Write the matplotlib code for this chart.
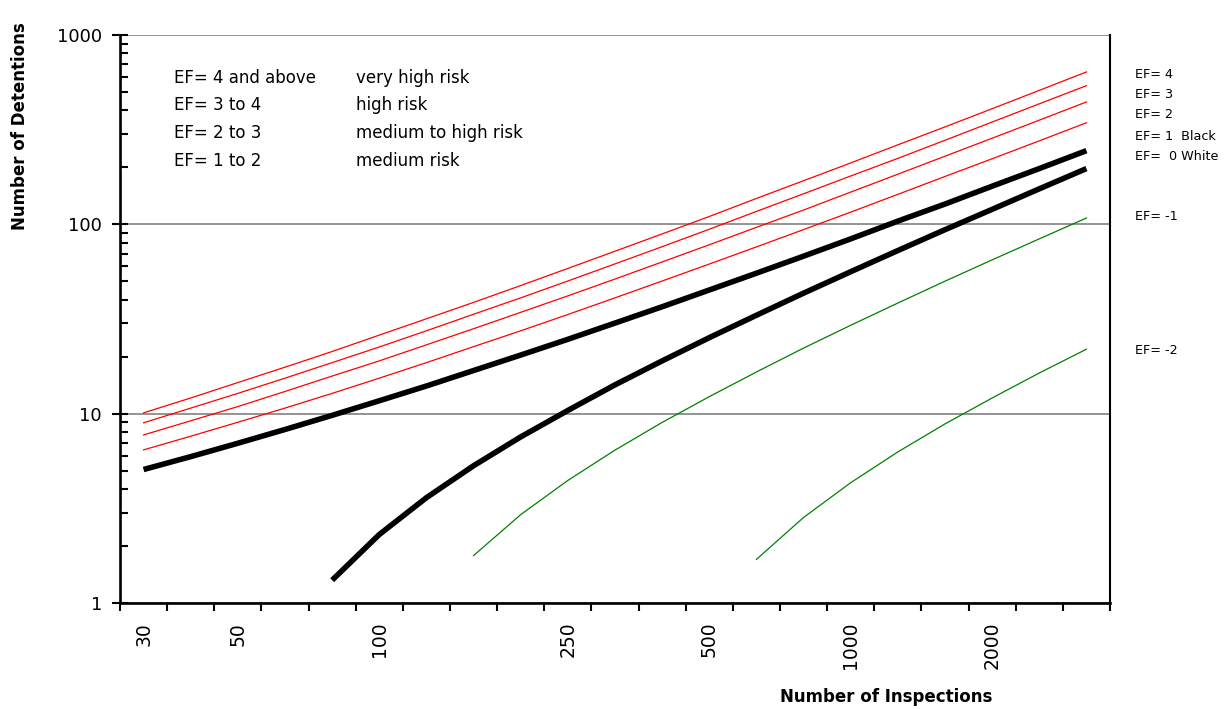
import numpy as np
import matplotlib
matplotlib.use("Agg")
import matplotlib.pyplot as plt
from matplotlib.ticker import FixedLocator, NullFormatter

plt.rcParams['font.family'] = ['DejaVu Sans']

# categories on the x axis (log spaced inspections), only some are labelled
categories = ["30", "", "50", "", "", "100", "", "", "", "250", "", "",
              "500", "", "", "1000", "", "", "2000", "", ""]

# number of detentions, one value per category (None = not drawn)
ef_red_1 = [6.44, 7.60, 9.01, 10.7, 12.8, 15.4, 18.6, 22.6, 27.4, 33.4, 40.9,
            50.2, 61.7, 76.0, 93.8, 116, 144, 179, 222, 276, 344]
ef_red_2 = [7.72, 9.17, 10.9, 13.1, 15.8, 19.0, 23.1, 28.1, 34.3, 41.9, 51.4,
            63.3, 78.0, 96.4, 119, 148, 184, 229, 285, 355, 443]
ef_red_3 = [8.95, 10.7, 12.8, 15.4, 18.6, 22.5, 27.4, 33.5, 40.9, 50.2, 61.8,
            76.2, 94.2, 117, 145, 180, 223, 278, 347, 433, 540]
ef_red_4 = [10.1, 12.1, 14.6, 17.6, 21.3, 26.0, 31.7, 38.7, 47.5, 58.5, 72.1,
            89.0, 110, 137, 170, 211, 263, 327, 408, 510, 638]
ef_black = [5.07, 5.93, 6.98, 8.25, 9.80, 11.7, 14.0, 16.9, 20.4, 24.7, 30.1,
            36.7, 45.0, 55.2, 67.9, 83.8, 104, 128, 159, 197, 245]
ef_white = [None, None, None, None, 1.32, 2.30, 3.60, 5.31, 7.54, 10.4, 14.2,
            19.0, 25.2, 33.1, 43.3, 56.2, 72.7, 93.7, 120, 154, 197]
ef_minus_1 = [None, None, None, None, None, None, None, 1.78, 2.93, 4.44, 6.42,
              8.99, 12.3, 16.6, 22.2, 29.3, 38.4, 50.1, 64.9, 83.8, 108]
ef_minus_2 = [None, None, None, None, None, None, None, None, None, None, None,
              None, None, 1.70, 2.83, 4.32, 6.28, 8.83, 12.1, 16.4, 21.9]

risk_ef = ["EF= 4 and above", "EF= 3 to 4", "EF= 2 to 3", "EF= 1 to 2"]
risk_text = ["very high risk", "high risk", "medium to high risk", "medium risk"]

right_labels = ["EF= 4", "EF= 3", "EF= 2", "EF= 1  Black", "EF=  0 White", "EF= -1", "EF= -2"]
right_label_y = [75, 95, 115, 136, 157, 216, 350]   # pixel rows of the side notes

W, H = 1231, 709


def arr(v):
    return np.array([np.nan if x is None else x for x in v], dtype=float)


fig = plt.figure(figsize=(W / 100, H / 100), dpi=100)
ax = fig.add_axes([120 / W, 1 - 603 / H, 990 / W, 568 / H])

x = np.arange(len(categories))

for s in [ef_red_1, ef_red_2, ef_red_3, ef_red_4]:
    ax.plot(x, arr(s), color='#ff0000', lw=0.9)
for s in [ef_minus_1, ef_minus_2]:
    ax.plot(x, arr(s), color='#008000', lw=0.9)
for s in [ef_black, ef_white]:
    ax.plot(x, arr(s), color='black', lw=4, solid_capstyle='butt')

ax.set_yscale('log')
ax.set_ylim(1, 1000)
ax.set_yticks([1, 10, 100, 1000])
ax.set_yticklabels(["1", "10", "100", "1000"])
ax.yaxis.set_minor_formatter(NullFormatter())
ax.tick_params(axis='y', which='major', direction='inout', length=12, width=1.5,
               labelsize=13, pad=7)
ax.tick_params(axis='y', which='minor', direction='in', length=5.5, width=1.5)

ax.set_xlim(-0.5, len(categories) - 0.5)
ax.set_xticks(x)
ax.set_xticklabels(categories, rotation=90)
ax.xaxis.set_minor_locator(FixedLocator(np.arange(-0.5, len(categories), 1.0)))
ax.tick_params(axis='x', which='major', length=0, labelsize=13.5, pad=13.5)
ax.tick_params(axis='x', which='minor', direction='out', length=6, width=1.5)

ax.yaxis.grid(True, which='major', color='#808080', lw=1.2)
ax.set_axisbelow(True)

ax.spines['top'].set_visible(False)
ax.spines['left'].set_linewidth(1.9)
ax.spines['bottom'].set_linewidth(1.9)
ax.spines['right'].set_linewidth(1.5)

# text block inside the plot
for i, (a, b) in enumerate(zip(risk_ef, risk_text)):
    yy = 78 + i * 27.5
    fig.text(174 / W, 1 - yy / H, a, fontsize=12, va='center')
    fig.text(356 / W, 1 - yy / H, b, fontsize=12, va='center')

for lab, yy in zip(right_labels, right_label_y):
    fig.text(1135 / W, 1 - yy / H, lab, fontsize=9.2, va='center')

fig.text(886 / W, 1 - 697 / H, "Number of Inspections", fontsize=12,
         fontweight='bold', ha='center', va='center')
fig.text(20 / W, 1 - 126 / H, "Number of Detentions", fontsize=12,
         fontweight='bold', ha='center', va='center', rotation=90)

fig.savefig("out.png", dpi=100)
